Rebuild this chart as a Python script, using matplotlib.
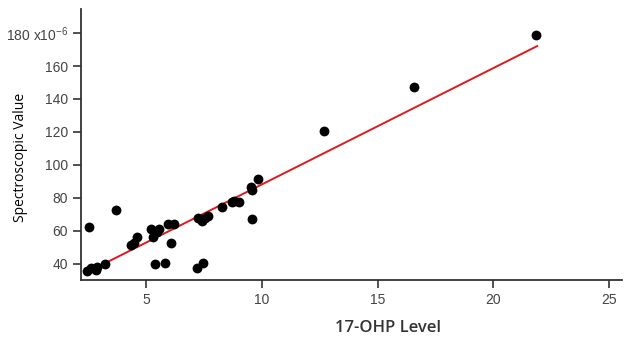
import matplotlib.pyplot as plt

# 17-OHP level vs spectroscopic value (x1e-6)
ohp = [2.44, 2.51, 2.62, 2.84, 2.87, 3.2, 3.7, 4.34, 4.45, 4.61, 5.2, 5.3, 5.39,
       5.48, 5.56, 5.83, 5.92, 6.05, 6.2, 7.19, 7.22, 7.39, 7.46, 7.52, 7.66,
       8.27, 8.7, 8.8, 8.99, 9.52, 9.56, 9.58, 9.85, 12.69, 16.58, 21.85]
spec = [35.9, 62.4, 37.4, 36.4, 38.0, 40.0, 72.5, 51.3, 52.5, 56.0, 61.2, 56.2, 40.0,
        59.2, 61.4, 40.4, 64.4, 52.5, 64.0, 37.2, 67.7, 65.7, 40.6, 67.7, 68.9,
        74.2, 77.4, 78.4, 77.6, 86.5, 84.7, 67.5, 91.5, 120.6, 147.3, 178.8]

# regression line end points
fit_x = [2.41, 21.9]
fit_y = [34.7, 172.1]

yticks = [40, 60, 80, 100, 120, 140, 160, 180]
ytick_labels = ['40', '60', '80', '100', '120', '140', '160', '180 x10$^{-6}$']
xticks = [5, 10, 15, 20, 25]

plt.rcParams['mathtext.default'] = 'regular'

fig = plt.figure(figsize=(6.25, 3.38), dpi=100)
ax = fig.add_axes([0.13, 0.172, 0.865, 0.801])

ax.scatter(ohp, spec, s=50, color='black', zorder=3, linewidths=0)
ax.plot(fit_x, fit_y, color='#e0191c', linewidth=1.4, zorder=2)

ax.set_xlim(2.19, 25.56)
ax.set_ylim(30.3, 194.5)
ax.set_xticks(xticks)
ax.set_yticks(yticks)
ax.set_yticklabels(ytick_labels)

for s in ['top', 'right']:
    ax.spines[s].set_visible(False)
for s in ['left', 'bottom']:
    ax.spines[s].set_linewidth(1.3)
    ax.spines[s].set_color('#333333')

ax.tick_params(direction='out', length=6, width=1.2, color='#333333',
               labelsize=10, labelcolor='#444444')
for lab in ax.get_xticklabels() + ax.get_yticklabels():
    lab.set_fontfamily('Liberation Sans')

ax.set_xlabel('17-OHP Level', fontsize=12, fontweight='semibold',
              fontfamily='Open Sans', color='#333333')
ax.xaxis.set_label_coords(0.568, -0.15)
ax.set_ylabel('Spectroscopic Value', fontsize=10, fontfamily='Open Sans',
              color='black')
ax.yaxis.set_label_coords(-0.099, 0.454)

fig.savefig('out.png', dpi=100)
